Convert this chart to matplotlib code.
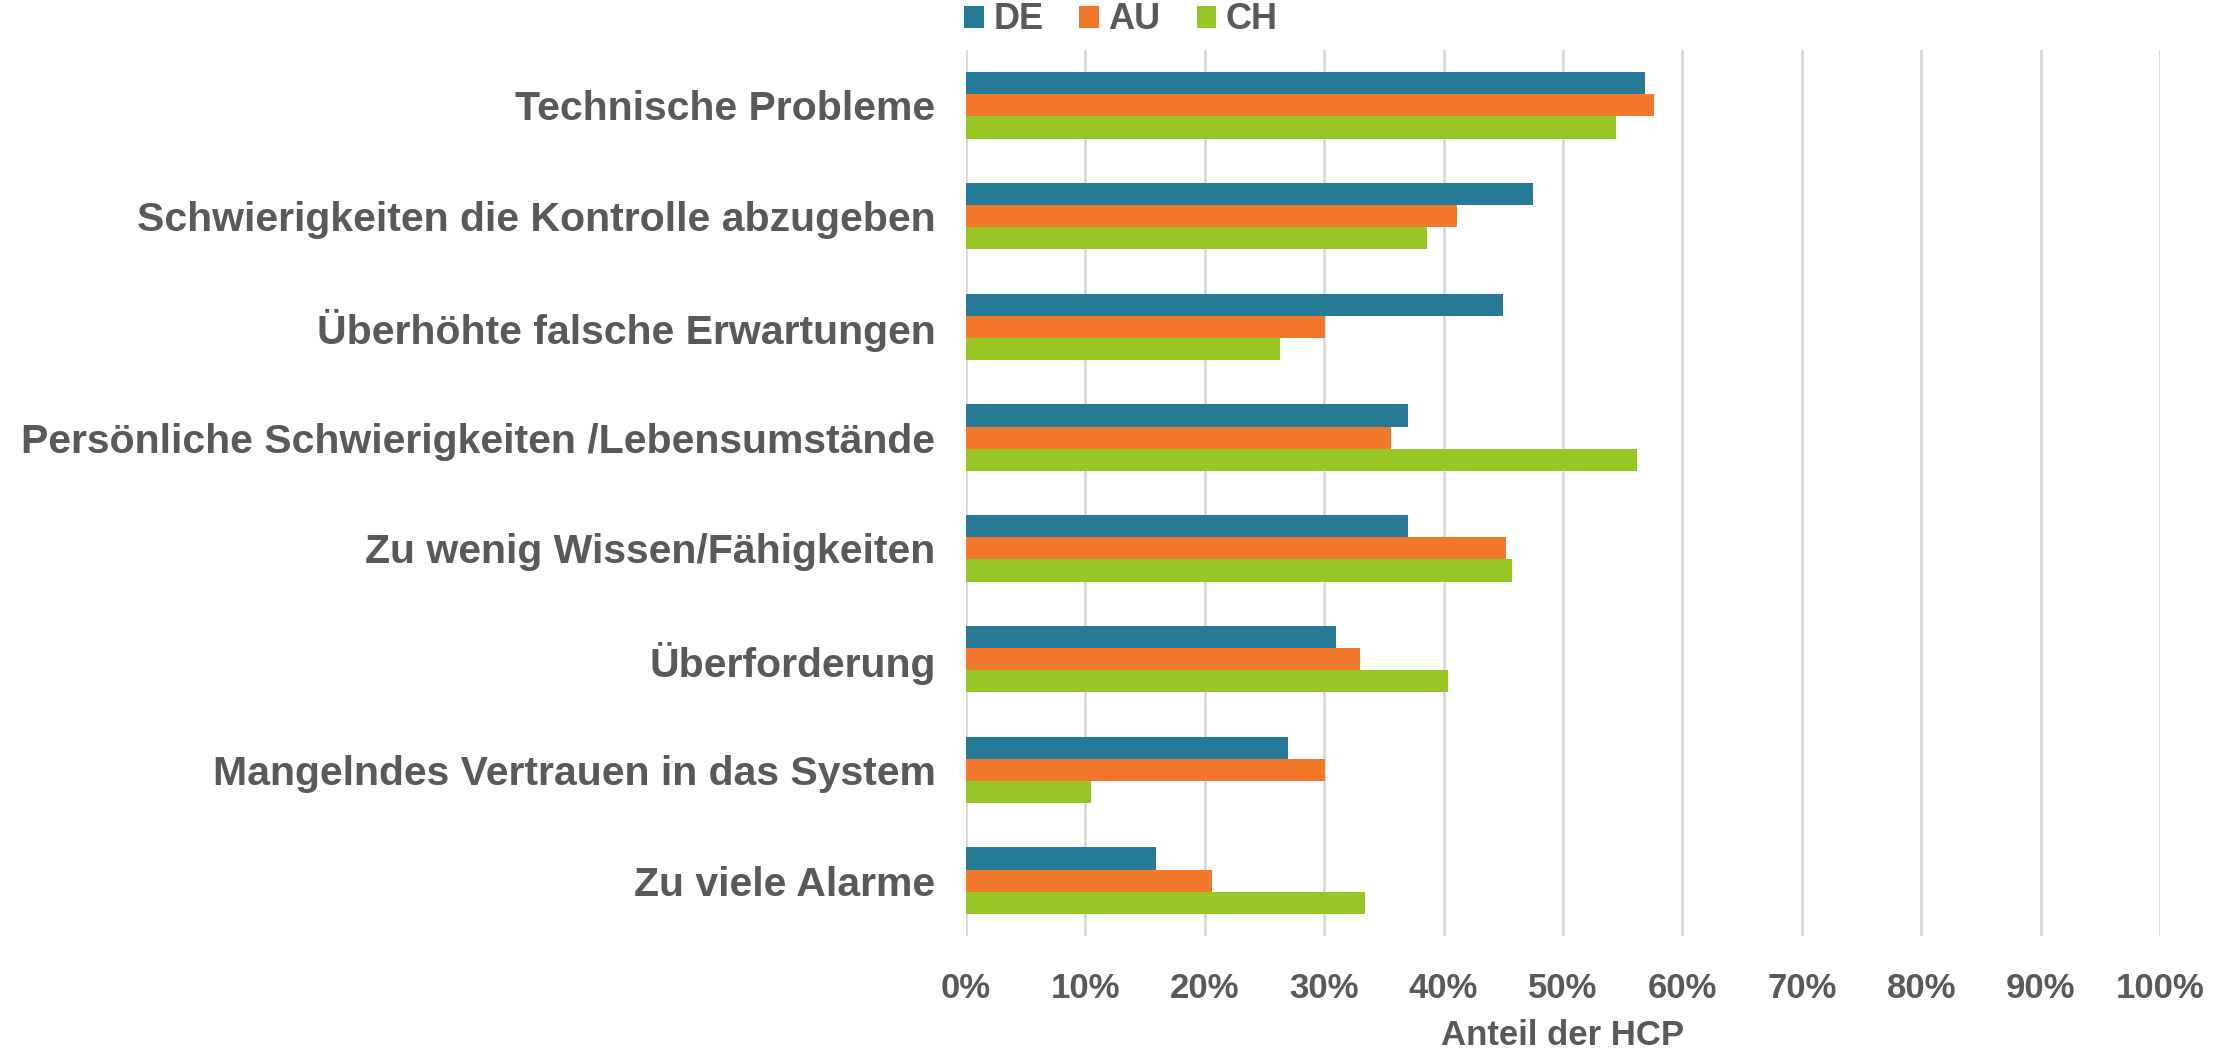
import matplotlib
matplotlib.use("Agg")
import matplotlib.pyplot as plt
import numpy as np
from matplotlib.ticker import FuncFormatter

categories = [
    "Technische Probleme",
    "Schwierigkeiten die Kontrolle abzugeben",
    "Überhöhte falsche Erwartungen",
    "Persönliche Schwierigkeiten /Lebensumstände",
    "Zu wenig Wissen/Fähigkeiten",
    "Überforderung",
    "Mangelndes Vertrauen in das System",
    "Zu viele Alarme",
]
de = [56.9, 47.5, 45.0, 37.0, 37.0, 31.0, 27.0, 15.9]
au = [57.6, 41.1, 30.1, 35.6, 45.2, 33.0, 30.1, 20.6]
ch = [54.4, 38.6, 26.3, 56.2, 45.7, 40.4, 10.5, 33.4]
series_names = ["DE", "AU", "CH"]
colors = ["#277A95", "#F2792B", "#97C625"]
xticks = [0, 10, 20, 30, 40, 50, 60, 70, 80, 90, 100]

gray = "#595959"
fam = ["Liberation Sans", "DejaVu Sans"]
fig = plt.figure(figsize=(22.34, 10.5), dpi=100)
ax = fig.add_axes([966/2234, 1-936/1050, (2160-966)/2234, (936-50)/1050])

y = np.arange(len(categories))
h = 0.2
for i, (vals, name, c) in enumerate(zip([de, au, ch], series_names, colors)):
    ax.barh(y + (i - 1) * h, vals, height=h, color=c, label=name, zorder=3)

ax.set_ylim(len(categories) - 0.5, -0.5)
ax.set_xlim(0, 100)
ax.set_xticks(xticks)
ax.xaxis.set_major_formatter(FuncFormatter(lambda v, p: f"{int(v)}%"))
ax.set_yticks(y)
ax.set_yticklabels(categories, fontsize=29.5, fontweight="bold", color=gray, family=fam)
for lab in ax.get_xticklabels():
    lab.set_fontsize(25)
    lab.set_fontweight("bold")
    lab.set_color(gray)
    lab.set_family(fam)
ax.tick_params(axis="both", length=0)
ax.tick_params(axis="x", pad=26)
ax.tick_params(axis="y", pad=22)
ax.grid(axis="x", color="#D9D9D9", linewidth=2, zorder=0)
for s in ax.spines.values():
    s.set_visible(False)
ax.set_xlabel("Anteil der HCP", fontsize=25, fontweight="bold", color=gray,
              family=fam, labelpad=10)

leg = fig.legend(loc="center", bbox_to_anchor=(1121/2234, 1-20/1050), ncol=3, frameon=False,
                 prop={"size": 26, "weight": "bold", "family": fam},
                 handlelength=0.55, handleheight=0.55, handletextpad=0.25, columnspacing=1.0)
for t in leg.get_texts():
    t.set_color(gray)

fig.savefig("out.png", dpi=100, facecolor="white")
